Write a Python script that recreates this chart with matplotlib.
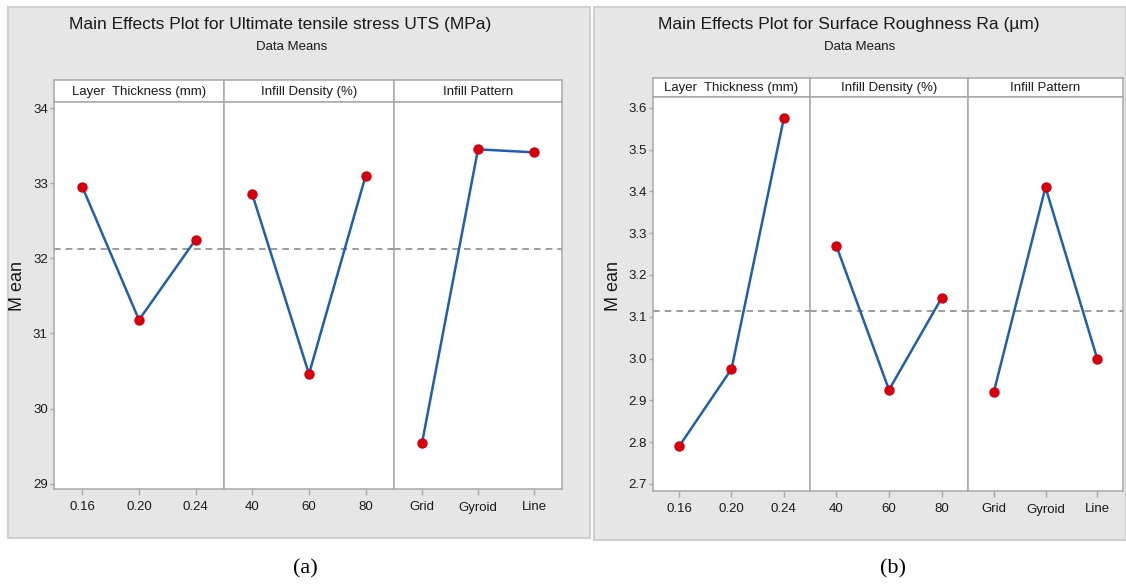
import matplotlib
matplotlib.use("Agg")
import matplotlib.pyplot as plt
from matplotlib import font_manager
from matplotlib.patches import Rectangle

W, H = 1126, 588

# factor levels
layer_levels = ['0.16', '0.20', '0.24']
density_levels = ['40', '60', '80']
pattern_levels = ['Grid', 'Gyroid', 'Line']
factor_names = ['Layer  Thickness (mm)', 'Infill Density (%)', 'Infill Pattern']

# (a) ultimate tensile stress means
uts_layer = [32.95, 31.18, 32.25]
uts_density = [32.85, 30.46, 33.10]
uts_pattern = [29.54, 33.45, 33.41]
uts_mean = 32.13
uts_yticks = [29, 30, 31, 32, 33, 34]

# (b) surface roughness means
ra_layer = [2.79, 2.975, 3.575]
ra_density = [3.27, 2.925, 3.145]
ra_pattern = [2.92, 3.41, 3.00]
ra_mean = 3.113
ra_yticks = [2.7, 2.8, 2.9, 3.0, 3.1, 3.2, 3.3, 3.4, 3.5, 3.6]

names = {f.name for f in font_manager.fontManager.ttflist}
NARROW = 'Liberation Sans Narrow' if 'Liberation Sans Narrow' in names else 'Liberation Sans'
plt.rcParams['font.family'] = [NARROW, 'DejaVu Sans']

BLUE = '#1f5fae'
RED = '#d40010'
EDGE = '#a8a8a8'
TXT = '#1a1a1a'

fig = plt.figure(figsize=(W / 100, H / 100), dpi=100)
fig.patch.set_facecolor('white')


def px_axes(x0, y0, x1, y1):
    return fig.add_axes([x0 / W, 1 - y1 / H, (x1 - x0) / W, (y1 - y0) / H])


def draw_panel(box, title, title_x, sub_x, edges, head_top, plot_top, plot_bot,
               series, mean, ylim, yticks, yfmt, ylab_x, cap, cap_x):
    bx0, by0, bx1, by1 = box
    fig.add_artist(Rectangle((bx0 / W, 1 - by1 / H), (bx1 - bx0) / W, (by1 - by0) / H,
                             transform=fig.transFigure, facecolor='#e6e6e6',
                             edgecolor='#cfcfcf', lw=1.5, zorder=0))
    fig.text(title_x / W, 1 - 24 / H, title, ha='center', va='center', fontsize=12.5, color=TXT)
    fig.text(sub_x / W, 1 - 47 / H, 'Data Means', ha='center', va='center', fontsize=9.5, color=TXT)
    fig.text(cap_x / W, 1 - 569 / H, cap, ha='center', va='center', fontsize=16,
             family='Liberation Serif', color='black')
    levels = [layer_levels, density_levels, pattern_levels]
    for i in range(3):
        x0, x1 = edges[i], edges[i + 1]
        hd = px_axes(x0, head_top, x1, plot_top)
        hd.set_facecolor('white')
        hd.set_xticks([])
        hd.set_yticks([])
        for s in hd.spines.values():
            s.set_color(EDGE)
            s.set_linewidth(1.1)
        hd.text(0.5, 0.45, factor_names[i], transform=hd.transAxes, ha='center', va='center',
                fontsize=9.5, color=TXT)

        ax = px_axes(x0, plot_top, x1, plot_bot)
        ax.set_facecolor('white')
        ax.axhline(mean, color='#8c8c8c', ls=(0, (4, 3)), lw=1.2, zorder=1)
        ax.plot(range(3), series[i], color=BLUE, lw=1.8, marker='o', ms=6.5,
                mfc=RED, mec=RED, zorder=3)
        ax.set_xlim(-0.5, 2.5)
        ax.set_ylim(*ylim)
        ax.set_xticks(range(3))
        ax.set_xticklabels(levels[i])
        ax.tick_params(axis='x', length=4, width=1, color=EDGE, pad=5,
                       labelsize=9.5, labelcolor=TXT)
        if i == 0:
            ax.set_yticks(yticks)
            ax.set_yticklabels([yfmt.format(v) for v in yticks])
            ax.tick_params(axis='y', length=3, width=1, color=EDGE, pad=1.5,
                           labelsize=9.5, labelcolor=TXT)
        else:
            ax.set_yticks([])
        for s in ax.spines.values():
            s.set_color(EDGE)
            s.set_linewidth(1.1)
    fig.text(ylab_x / W, 1 - 286 / H, 'M ean', rotation=90, ha='center', va='center',
             fontsize=13, color=TXT)


draw_panel((8, 7, 590, 538),
           'Main Effects Plot for Ultimate tensile stress UTS (MPa)', 280, 292,
           [54, 224, 394, 562], 80, 102, 489,
           [uts_layer, uts_density, uts_pattern], uts_mean, (28.93, 34.08),
           uts_yticks, '{:.0f}', 18, '(a)', 305)

draw_panel((594, 7, 1126, 540),
           'Main Effects Plot for Surface Roughness Ra (\u00b5m)', 849, 860,
           [653, 810, 968, 1123], 78, 97, 491,
           [ra_layer, ra_density, ra_pattern], ra_mean, (2.683, 3.626),
           ra_yticks, '{:.1f}', 613, '(b)', 893)

fig.savefig('out.png', dpi=100)
